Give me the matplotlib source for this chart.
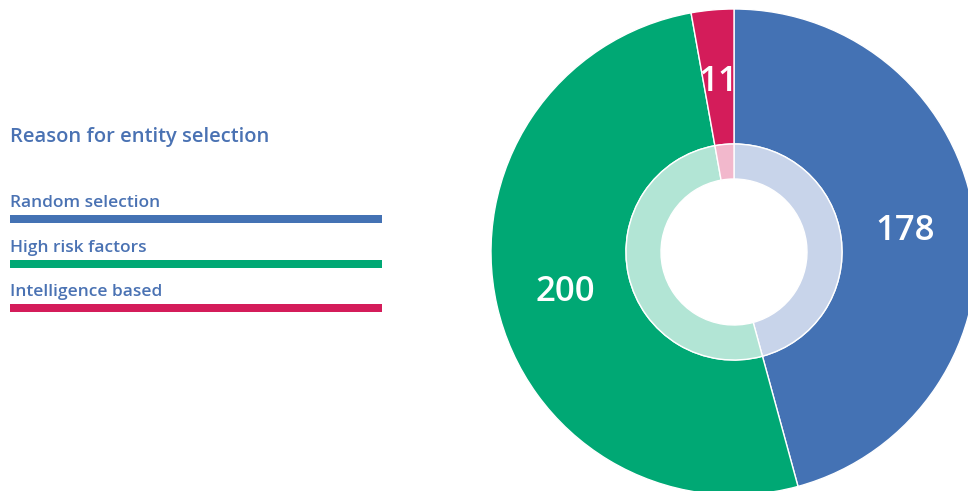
import numpy as np
import matplotlib
matplotlib.use("Agg")
import matplotlib.pyplot as plt
from matplotlib.patches import Rectangle

categories = ["Random selection", "High risk factors", "Intelligence based"]
values = [178, 200, 11]
legend_title = "Reason for entity selection"

colors = ["#4472B4", "#00A874", "#D41C5A"]
light_colors = ["#C8D4EA", "#B2E5D5", "#F2B8CC"]
text_color = "#4A72B3"

plt.rcParams['font.family'] = ['Open Sans', 'DejaVu Sans']

W, H = 968, 491
fig = plt.figure(figsize=(W / 100, H / 100), dpi=100)
ax = fig.add_axes([0, 0, 1, 1])
ax.set_xlim(0, W)
ax.set_ylim(0, H)
ax.set_aspect('equal')
ax.axis('off')

cx, cy = 734, H - 252
R_out, R_mid, R_in = 243, 108, 73

wedges, _ = ax.pie(values, radius=R_out, center=(cx, cy), startangle=90,
                   counterclock=False, colors=colors,
                   wedgeprops=dict(width=R_out - R_mid, edgecolor='white', linewidth=1))
ax.pie(values, radius=R_mid, center=(cx, cy), startangle=90,
       counterclock=False, colors=light_colors,
       wedgeprops=dict(width=R_mid - R_in, edgecolor='white', linewidth=1))
ax.set_xlim(0, W)
ax.set_ylim(0, H)

for w, v in zip(wedges, values):
    mid = np.deg2rad((w.theta1 + w.theta2) / 2)
    r = 0.71 * R_out
    ax.text(cx + r * np.cos(mid), cy + r * np.sin(mid) - 11, str(v), color='white',
            fontsize=25, fontweight='semibold', ha='center', va='baseline')

ax.text(10, H - 142, legend_title, color=text_color, fontsize=14.5,
        fontweight='semibold', ha='left', va='baseline')
for i, (cat, col) in enumerate(zip(categories, colors)):
    base = 207 + i * 44.5
    ax.text(10, H - base, cat, color=text_color, fontsize=12.5,
            fontweight='semibold', ha='left', va='baseline')
    ax.add_patch(Rectangle((10, H - (base + 16)), 372, 8, color=col, lw=0))

fig.savefig("out.png", dpi=100)
